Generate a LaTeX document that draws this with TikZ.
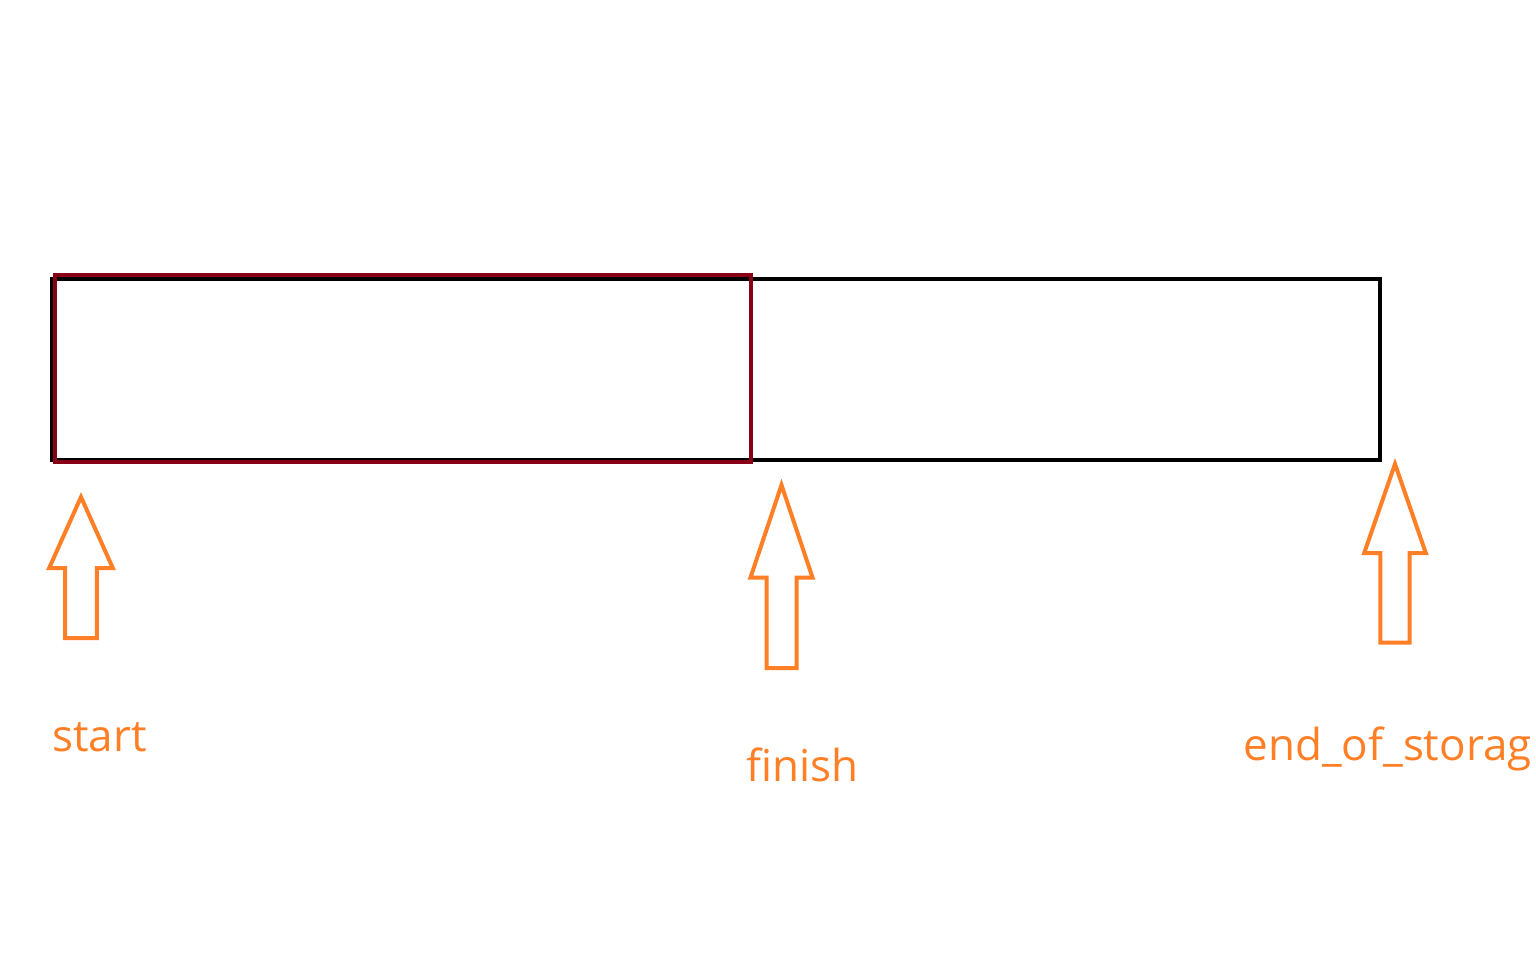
\documentclass[tikz,border=0pt]{standalone}
\usepackage{fontspec}
\setmainfont{Open Sans}
\usepackage{tikz}

\definecolor{paintorange}{RGB}{255,127,39}
\definecolor{paintred}{RGB}{136,0,21}

\begin{document}
\begin{tikzpicture}[
        x=0.5pt, y=-0.5pt,
        buffer/.style={draw=black, line width=2pt},
        used/.style={draw=paintred, line width=2pt},
        pointer/.style={draw=paintorange, line width=2pt, line join=miter},
        label/.style={inner sep=0pt, anchor=base west, text=paintorange, font=\fontsize{22}{26}\selectfont}
    ]
        \useasboundingbox (0,0) rectangle (1536,960);

        % storage block and the filled part
        \draw[buffer] (51.5,279) rectangle (1379.5,459.5);
        \draw[used] (55,275) rectangle (750.5,462);

        % hollow up arrows: tip x / tip y / head base y / bottom y / half head / half shaft
        \foreach \tx/\ty/\hy/\by/\hw/\sw in {81/497/568/638/31.8/15.8, 781.5/485/577.5/668/31/15, 1395/464/553/642.5/30.8/14.7}
            \draw[pointer] (\tx,\ty) -- (\tx+\hw,\hy) -- (\tx+\sw,\hy) -- (\tx+\sw,\by)
                -- (\tx-\sw,\by) -- (\tx-\sw,\hy) -- (\tx-\hw,\hy) -- cycle;

        \node[label] (start) at (52,751) {start};
        \node[label] (finish) at (746,781.5) {finish};
        \node[label] (endstore) at (1243,760) {end\_of\_storag};
    \end{tikzpicture}
\end{document}
